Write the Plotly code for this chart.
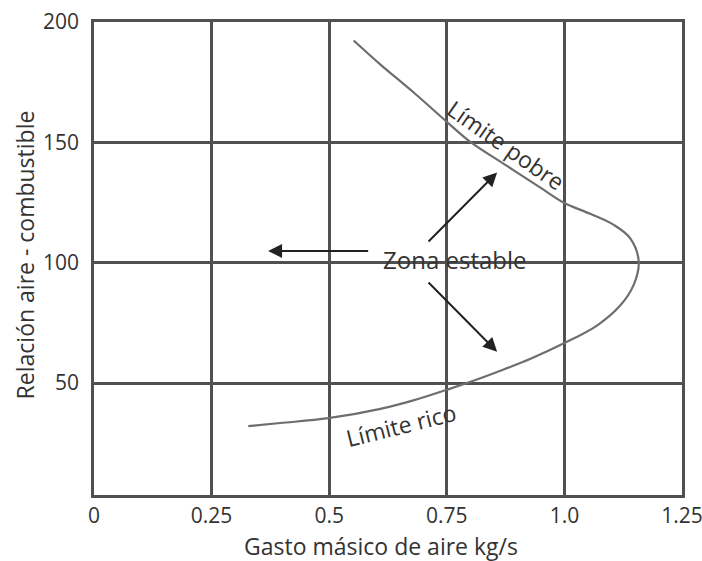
import plotly.graph_objects as go

# Curve: stability limit (upper branch = lean limit, lower branch = rich limit)
curve_x = [0.552, 0.609, 0.679, 0.756, 0.800, 0.878, 0.949, 0.999, 1.055, 1.105,
           1.140, 1.158, 1.147, 1.119, 1.070, 0.999, 0.928, 0.857, 0.814, 0.756,
           0.679, 0.609, 0.498, 0.396, 0.328]
curve_y = [192.3, 182.3, 170.8, 157.5, 150.2, 140.2, 131.2, 124.9, 120.3, 115.7,
           110.1, 100.4, 90.7, 82.3, 74.0, 66.5, 60.1, 54.6, 51.5, 47.6,
           42.8, 39.3, 35.4, 33.4, 32.1]

x_ticks = [0, 0.25, 0.5, 0.75, 1.0, 1.25]
x_tick_labels = ["0", "0.25", "0.5", "0.75", "1.0", "1.25"]
y_ticks = [50, 100, 150, 200]
y_tick_labels = ["50", "100", "150", "200"]

# Arrows from "Zona estable": tail -> head
arrow_tail_x = [0.586, 0.708, 0.708]
arrow_tail_y = [104.9, 108.2, 92.4]
arrow_head_x = [0.37, 0.857, 0.857]
arrow_head_y = [104.9, 137.5, 63.0]

FONT = "Open Sans"
TXT = "#333333"
GRID = "#505050"

fig = go.Figure()
fig.add_trace(go.Scatter(
    x=curve_x, y=curve_y, mode="lines",
    line=dict(color="#6e6e6e", width=2.2, shape="spline", smoothing=1.0),
    showlegend=False, hoverinfo="skip"))

for tx, ty, hx, hy in zip(arrow_tail_x, arrow_tail_y, arrow_head_x, arrow_head_y):
    fig.add_annotation(x=hx, y=hy, ax=tx, ay=ty, xref="x", yref="y",
                       axref="x", ayref="y", text="", showarrow=True,
                       arrowhead=2, arrowsize=1.4, arrowwidth=2,
                       arrowcolor="#222222")

fig.add_annotation(x=0.767, y=101.5, xref="x", yref="y", text="Zona estable",
                   showarrow=False, font=dict(family=FONT, size=24, color=TXT))
fig.add_annotation(x=0.876, y=148.9, xref="x", yref="y", text="Límite pobre",
                   showarrow=False, textangle=35,
                   font=dict(family=FONT, size=23, color=TXT))
fig.add_annotation(x=0.653, y=32.6, xref="x", yref="y", text="Límite rico",
                   showarrow=False, textangle=-14,
                   font=dict(family=FONT, size=23, color=TXT))

# Axis titles
fig.add_annotation(x=0.488, y=-0.108, xref="paper", yref="paper",
                   text="Gasto másico de aire kg/s", showarrow=False,
                   yanchor="middle", xanchor="center",
                   font=dict(family=FONT, size=23, color=TXT))
fig.add_annotation(x=-0.117, y=0.507, xref="paper", yref="paper",
                   text="Relación aire - combustible", showarrow=False,
                   textangle=-90, xanchor="center", yanchor="middle",
                   font=dict(family=FONT, size=23, color=TXT))

fig.update_xaxes(range=[0, 1.25], tickvals=x_ticks, ticktext=x_tick_labels,
                 showgrid=True, gridcolor=GRID, gridwidth=2.5,
                 showline=True, linecolor=GRID, linewidth=2.5, mirror=True,
                 zeroline=False, ticks="", ticklabelstandoff=0,
                 ticklabeloverflow="allow",
                 tickfont=dict(family=FONT, size=21, color=TXT))
fig.update_yaxes(range=[3.5, 200], tickvals=y_ticks, ticktext=y_tick_labels,
                 showgrid=True, gridcolor=GRID, gridwidth=2.5,
                 showline=True, linecolor=GRID, linewidth=2.5, mirror=True,
                 zeroline=False, ticks="", ticklabelstandoff=8,
                 tickfont=dict(family=FONT, size=21, color=TXT))

fig.update_layout(width=702, height=561,
                  margin=dict(l=94, r=20, t=22, b=66, autoexpand=False),
                  plot_bgcolor="white", paper_bgcolor="white")

fig.write_html("out.html", config={"displayModeBar": False},
               post_script="document.body.style.margin='0px';document.body.style.overflow='hidden';")
